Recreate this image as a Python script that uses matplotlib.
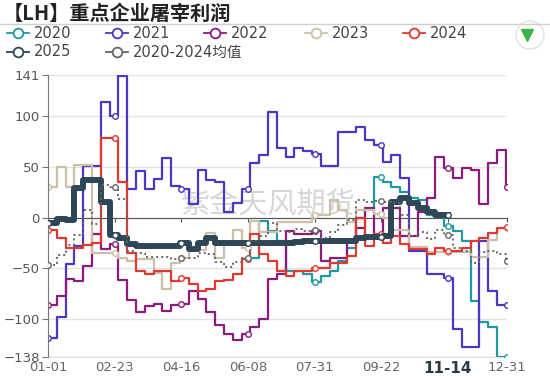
import numpy as np
import matplotlib
matplotlib.use('Agg')
import matplotlib.pyplot as plt
from matplotlib.lines import Line2D
from matplotlib.patches import Ellipse

plt.rcParams['font.family'] = ['DejaVu Sans', 'Noto Sans CJK SC']
cjk = ['Noto Sans CJK SC', 'DejaVu Sans']

nan = np.nan
# weekly values, week k starts on day 7*k (day 0 = 01-01)
y2020 = [nan] * 23 + [-40, -3, -13, -23, -53, -53, -56, -64, -58, -53,
                      -43, -30, 0, 8, 40, 35, 30, 25, 19, 17,
                      2, 2, -8, -13, -23, -83, -103, -108, -138, -138]
y2021 = [-119, -98, -46, -28, 51, 51, 114, 100, 140, 28,
         46, 28, 38, 59, 31, 28, 13, 47, 37, 35,
         5, 14, 28, 54, 62, 104, 69, 60, 69, 66,
         63, 51, 51, 85, 85, 90, 77, 72, 55, 62,
         39, -33, -33, -56, -56, -60, -110, -128, -128, -23,
         -73, -87, -87]
y2022 = [-87, -78, -61, -63, -48, -16, -31, -26, -62, -82,
         -93, -88, -86, -92, -87, -86, -73, -81, -93, -106,
         -115, -121, -115, -108, -100, -61, -56, -13, -16, -16,
         -13, -43, -40, -40, -23, -10, 9, -18, 9, 9,
         -18, -18, 5, 19, 60, 49, 39, 49, 47, 13,
         54, 67, 30]
y2023 = [30, 50, 30, 52, 52, -35, -35, -35, -40, -43,
         -41, -41, -55, -71, -45, -40, -32, -32, -15, -40,
         -25, -12, -30, -3, -14, -14, -4, -4, -4, -4,
         2, 2, 17, 7, -4, 7, 7, 3, 0, -12,
         -12, -29, -29, -34, -34, -34, -34, -34, -39, -39,
         -22, -10, -10]
y2024 = [-12, -20, -30, -30, -27, -25, 79, 79, 35, -35,
         -53, -56, -53, -53, -63, -60, -66, -73, -71, -63,
         -62, -56, -41, -16, -36, -43, -53, -58, -53, -53,
         -50, -50, -45, -45, -38, 0, -28, -16, -25, -18,
         -26, -31, -31, -36, -30, -33, -33, -30, -23, -20,
         -15, -10, -9]
y2025 = [-5, -1, -2, 29, 37, 37, 15, -17, -20, -26,
         -28, -28, -28, -28, -28, -25, -31, -25, -20, -25,
         -25, -25, -25, -25, -25, -25, -25, -25, -24, -23,
         -23, -23, -23, -23, -23, -20, -19, -19, -18, 15,
         19, 14, 9, 5, 2, 2]
yavg = [-47, -37, -27, -17, 7, -6, 32, 30, 18, -33,
        -35, -39, -39, -39, -41, -40, -40, -35, -36, -44,
        -49, -44, -40, -23, -18, -5, -13, -14, -11, -13,
        -12, -20, -14, -7, -2, 17, 15, 16, 15, 14,
        2, -18, -14, -21, -12, -17, -30, -33, -45, -34,
        -33, -36, -43]

days = np.arange(0, 365, 7)
tick_days = [0, 53, 106, 159, 212, 265, 318, 365]
tick_labels = ['01-01', '02-23', '04-16', '06-08', '07-31', '09-22', '11-14', '12-31']
yticks = [141, 100, 50, 0, -50, -100, -138]

c2020 = '#1f9aa2'
c2021 = '#4f36c2'
c2022 = '#8c1b7c'
c2023 = '#cdbfa9'
c2024 = '#e0392f'
c2025 = '#2e4756'
cavg = '#666666'

W, H = 550, 376
fig = plt.figure(figsize=(W / 100, H / 100), dpi=100)
ax = fig.add_axes([48 / W, 1 - 357 / H, (507 - 48) / W, (357 - 75) / H])


def draw(vals, color, lw=1.6, ls='-', end=365, z=2):
    vals = np.asarray(vals, dtype=float)
    x = np.append(days[:len(vals)], end)
    y = np.append(vals, vals[-1])
    ax.plot(x, y, drawstyle='steps-post', color=color, lw=lw, ls=ls, zorder=z)
    md = np.array([d for d in tick_days if d <= end])
    idx = np.searchsorted(x, md, side='right') - 1
    my = y[idx]
    ok = ~np.isnan(my)
    ax.plot(md[ok], my[ok], 'o', ms=4, mfc='white', mec=color, mew=1, zorder=z + 0.1)


draw(y2020, c2020)
draw(y2021, c2021)
draw(y2022, c2022)
draw(y2023, c2023)
draw(y2024, c2024)
draw(y2025, c2025, lw=4.3, end=318, z=3)
draw(yavg, cavg, lw=1.4, ls=(0, (1, 1.6)), z=4)

ax.set_xlim(0, 365)
ax.set_ylim(-138, 141)
ax.set_yticks(yticks)
ax.yaxis.grid(True, color='#e4e4e4', lw=1)
ax.set_axisbelow(True)
for s in ['top', 'right']:
    ax.spines[s].set_visible(False)
ax.spines['left'].set_color('#777777')
ax.spines['bottom'].set_position(('data', 0))
ax.spines['bottom'].set_color('#555555')
ax.spines['bottom'].set_zorder(1.5)
ax.set_xticks(tick_days)
ax.tick_params(axis='x', length=3, color='#555555', labelbottom=False)
ax.tick_params(axis='y', length=4, color='#777777', labelsize=9.5, labelcolor='#555555', pad=2)

sec = ax.secondary_xaxis(0.0)
sec.set_xticks(tick_days, tick_labels)
sec.tick_params(length=0, labelsize=9.5, colors='#666666', pad=3)
sec.spines['bottom'].set_color('#e0e0e0')
lab = sec.get_xticklabels()
lab[6].set_fontweight('bold')
lab[6].set_fontsize(11)
lab[6].set_color('#2b3a44')

# watermark
ax.text(0.48, 0.54, '紫金天风期货', transform=ax.transAxes, fontsize=21, family=cjk,
        color='#b5b5b5', alpha=0.55, ha='center', va='center', zorder=1)

# title and separator
fig.text(3 / W, 1 - 13 / H, '【LH】重点企业屠宰利润', fontsize=14.5, fontweight='bold',
         family=cjk, color='#222222', va='center')
fig.add_artist(Line2D([0, 1], [1 - 23.5 / H] * 2, transform=fig.transFigure,
                      color='#d0d0d0', lw=1))


def legend_item(x0, y0, label, color):
    fy = 1 - y0 / H
    fig.add_artist(Line2D([x0 / W, (x0 + 22) / W], [fy, fy], color=color, lw=1.3,
                          transform=fig.transFigure))
    fig.add_artist(Line2D([(x0 + 11) / W], [fy], marker='o', ms=7, mfc='white', mec=color,
                          mew=1.3, transform=fig.transFigure))
    fig.text((x0 + 27) / W, fy, label, fontsize=10.5, color='#444444', va='center')


legend_item(7, 33, '2020', c2020)
legend_item(106, 33, '2021', c2021)
legend_item(204, 33, '2022', c2022)
legend_item(305, 33, '2023', c2023)
legend_item(403, 33, '2024', c2024)
legend_item(7, 52, '2025', c2025)
legend_item(106, 52, '2020-2024均值', cavg)

# corner button
fig.add_artist(Ellipse((530 / W, 1 - 35 / H), 28 / W, 28 / H, transform=fig.transFigure,
                       facecolor='white', edgecolor='#e2e2e2', lw=1))
fig.add_artist(Line2D([527 / W], [1 - 35 / H], marker='v', ms=8, color='#3bb54a',
                      transform=fig.transFigure))

fig.savefig('out.png', dpi=100)
